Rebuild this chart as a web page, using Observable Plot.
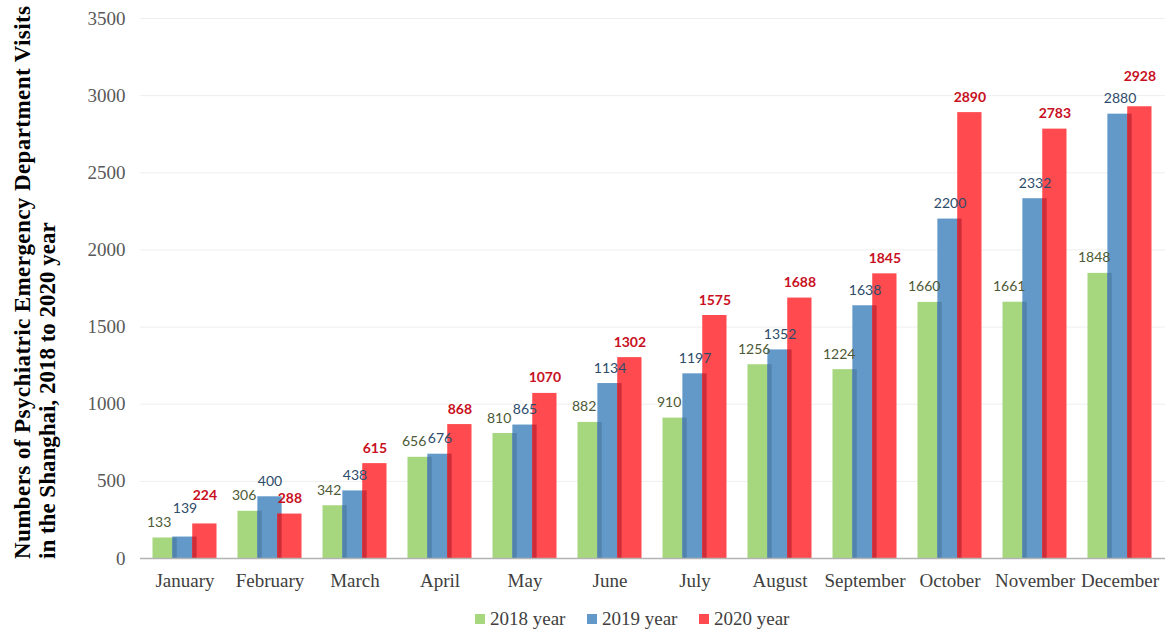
<!DOCTYPE html>
<html>
<head>
<meta charset="utf-8">
<script src="https://cdn.jsdelivr.net/npm/d3@7"></script>
<script src="https://cdn.jsdelivr.net/npm/@observablehq/plot@0.6"></script>
<style>
  html, body { margin: 0; padding: 0; background: #fff; }
  #chart { width: 1170px; }
  #legend { position: relative; height: 42px; width: 1170px; font-family: "Liberation Serif", "Times New Roman", serif; font-size: 19px; color: #404040; }
  .item { position: absolute; top: 8px; display: flex; align-items: center; }
  .sw { width: 10px; height: 10px; margin-right: 5px; }
</style>
</head>
<body>
<div id="chart"></div>
<div id="legend"></div>
<script>
const months = ["January","February","March","April","May","June","July","August","September","October","November","December"];
const v2018 = [133,306,342,656,810,882,910,1256,1224,1660,1661,1848];
const v2019 = [139,400,438,676,865,1134,1197,1352,1638,2200,2332,2880];
const v2020 = [224,288,615,868,1070,1302,1575,1688,1845,2890,2783,2928];
const years = ["2018 year","2019 year","2020 year"];
const yTicks = [0,500,1000,1500,2000,2500,3000,3500];

const barColors = ["#a6d77e","#6399c9","#ff4b4f"];
const overlapColors = ["#5283ac","#cf2c3a"];
const labelColors = ["#4d5a35","#2d4b6a","#c8101e"];
// labels that the reference lifts higher above their bars (pixels)
const labelLift = {"January|1": 13, "January|2": 13, "December|2": 15};

const W = 1170, H = 600, mL = 140, mR = 5, mT = 18, mB = 42;
const pi = 0.3, po = 0.17;
const step = (W - mL - mR) / (months.length - pi + 2 * po);
const bw = step * (1 - pi);
const u = bw / 3;
const ext = 2.5;

const series = [v2018, v2019, v2020];
const tables = series.map((vals, j) => months.map((m, i) => ({month: m, value: vals[i], key: m + "|" + j})));
const overlaps = [1, 2].map(j => months.map((m, i) => ({month: m, value: Math.min(series[j-1][i], series[j][i])})));

const marks = [
  Plot.ruleY(yTicks.filter(d => d > 0), {stroke: "#eeeeee", strokeWidth: 1}),
];
tables.forEach((t, j) => {
  marks.push(Plot.barY(t, {
    x: "month", y: "value", fill: barColors[j],
    insetLeft: j * u - ext, insetRight: bw - (j + 1) * u - ext
  }));
  if (j > 0) {
    marks.push(Plot.barY(overlaps[j-1], {
      x: "month", y: "value", fill: overlapColors[j-1],
      insetLeft: j * u - ext, insetRight: bw - j * u - ext
    }));
  }
});
marks.push(Plot.ruleY([0], {stroke: "#b3b3b3", strokeWidth: 1.5}));
const labelOpts = (j, lift) => ({
  x: "month", y: "value", text: d => String(d.value),
  dx: (j - 1) * u + (j === 0 ? -6 : 0), dy: -11 - lift,
  lineAnchor: "bottom",
  fill: labelColors[j],
  fontWeight: j === 2 ? "bold" : "normal",
  fontFamily: "Lato, 'Open Sans', sans-serif",
  fontSize: 14
});
tables.forEach((t, j) => {
  marks.push(Plot.text(t.filter(d => !(d.key in labelLift)), labelOpts(j, 0)));
  t.filter(d => d.key in labelLift).forEach(d => {
    marks.push(Plot.text([d], labelOpts(j, labelLift[d.key])));
  });
});
marks.push(Plot.axisX({
  tickSize: 0, tickPadding: 15, fontSize: 19,
  fontFamily: "'Liberation Serif', 'Times New Roman', serif",
  fill: "#404040", label: null
}));
marks.push(Plot.axisY({
  ticks: yTicks, tickSize: 0, tickPadding: 15, fontSize: 19,
  fontFamily: "'Liberation Serif', 'Times New Roman', serif",
  fill: "#595959", label: null, tickFormat: d => String(d)
}));

const chart = Plot.plot({
  width: W, height: H,
  marginLeft: mL, marginRight: mR, marginTop: mT, marginBottom: mB,
  x: {type: "band", domain: months, paddingInner: pi, paddingOuter: po, axis: null},
  y: {domain: [0, 3500], axis: null},
  style: {background: "#fff", overflow: "visible"},
  marks
});
document.getElementById("chart").appendChild(chart);

// Y-axis title (two bold serif lines, rotated)
const svg = d3.select(chart);
const titleLines = [
  {text: "Numbers of Psychiatric Emergency Department Visits", x: 30, len: 553},
  {text: "in the Shanghai, 2018 to 2020 year", x: 55, len: null}
];
titleLines.forEach(l => {
  const t = svg.append("text")
    .attr("transform", `translate(${l.x},559) rotate(-90)`)
    .attr("text-anchor", "start")
    .attr("font-family", "'Liberation Serif', 'Times New Roman', serif")
    .attr("font-weight", "bold")
    .attr("font-size", 23)
    .attr("fill", "#000")
    .text(l.text);
  if (l.len) t.attr("textLength", l.len).attr("lengthAdjust", "spacing");
});

// Legend below the SVG
const legend = d3.select("#legend");
const legendX = [475, 587, 699];
years.forEach((y, j) => {
  const it = legend.append("div").attr("class", "item").style("left", legendX[j] + "px");
  it.append("div").attr("class", "sw").style("background", barColors[j]);
  it.append("span").text(y);
});
</script>
</body>
</html>
